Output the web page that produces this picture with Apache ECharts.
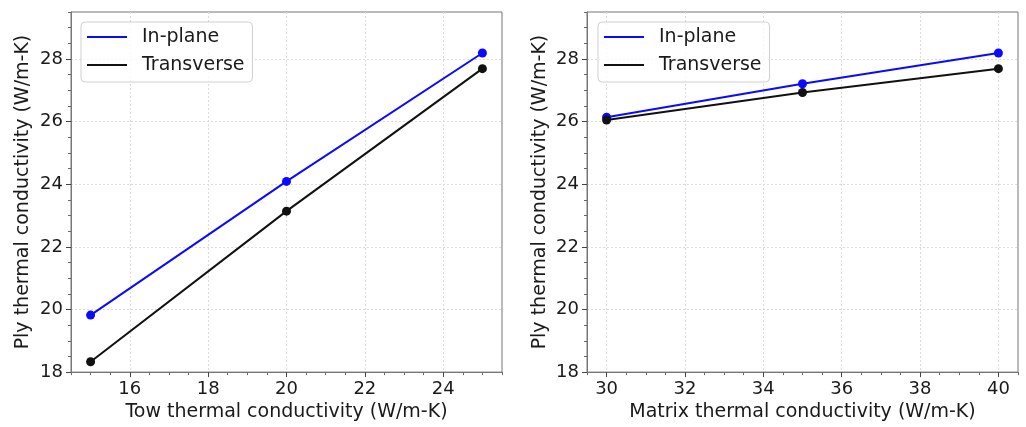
<!DOCTYPE html>
<html>
<head>
<meta charset="utf-8">
<script src="https://cdn.jsdelivr.net/npm/echarts@6/dist/echarts.min.js"></script>
<style>
  html, body { margin: 0; padding: 0; background: #fff; }
  #chart { width: 1026px; height: 427px; }
</style>
</head>
<body>
<div id="chart"></div>
<script>
// values
const towX = [15, 20, 25];
const towInPlane = [19.82, 24.09, 28.19];
const towTransverse = [18.33, 23.14, 27.69];

const matrixX = [30, 35, 40];
const matrixInPlane = [26.14, 27.21, 28.19];
const matrixTransverse = [26.05, 26.93, 27.69];

const towTicks = [16, 18, 20, 22, 24];
const matrixTicks = [30, 32, 34, 36, 38, 40];
const plyTicks = [18, 20, 22, 24, 26, 28];

const seriesNames = ['In-plane', 'Transverse'];
const seriesColors = ['#0a0aff', '#111111'];

const FONT = 'DejaVu Sans';
const TEXT = '#1a1a1a';
const FRAME = '#777777';

const chart = echarts.init(document.getElementById('chart'), null, { renderer: 'canvas' });

// major axis: labels, ticks, grid lines and title
function majorAxis(gridIndex, min, max, ticks, name, gap, pos) {
  return {
    type: 'value',
    gridIndex: gridIndex,
    position: pos,
    min: min,
    max: max,
    name: name,
    nameLocation: 'middle',
    nameGap: gap,
    nameTextStyle: { fontFamily: FONT, fontSize: 19, color: TEXT },
    axisLine: { show: true, lineStyle: { color: FRAME, width: 1 } },
    axisTick: { show: true, customValues: ticks, length: 5, inside: false, lineStyle: { color: '#444', width: 1 } },
    axisLabel: { customValues: ticks, fontFamily: FONT, fontSize: 18, color: TEXT, margin: 8 },
    splitLine: { show: true, lineStyle: { color: '#dcdcdc', type: [2, 2], width: 1 } },
    z: 3
  };
}

// minor axis: only the small ticks every 0.5
function minorAxis(gridIndex, min, max, pos) {
  return {
    type: 'value',
    gridIndex: gridIndex,
    position: pos,
    offset: 0,
    min: min,
    max: max,
    interval: 0.5,
    axisLine: { show: false },
    axisTick: { show: true, length: 3, inside: false, lineStyle: { color: '#666', width: 1 } },
    axisLabel: { show: false },
    splitLine: { show: false }
  };
}

function lineSeries(name, color, xs, ys, axisIndex) {
  return {
    name: name,
    type: 'line',
    xAxisIndex: axisIndex,
    yAxisIndex: axisIndex,
    data: xs.map((x, i) => [x, ys[i]]),
    symbol: 'circle',
    symbolSize: 9,
    showSymbol: true,
    lineStyle: { color: color, width: 2 },
    itemStyle: { color: color },
    z: 5
  };
}

function legendAt(left) {
  return {
    left: left,
    top: 22,
    orient: 'vertical',
    data: seriesNames,
    icon: 'rect',
    itemWidth: 40,
    itemHeight: 2,
    itemGap: 8,
    padding: [5, 8, 7, 6],
    borderColor: '#d0d0d0',
    borderWidth: 1,
    borderRadius: 4,
    backgroundColor: 'rgba(255,255,255,0.8)',
    textStyle: { fontFamily: FONT, fontSize: 19, color: TEXT, lineHeight: 20, padding: [0, 0, 0, 10] },
    selectedMode: false
  };
}

const option = {
  backgroundColor: '#ffffff',
  animation: false,
  legend: [legendAt(81), legendAt(598)],
  grid: [
    { left: 71, top: 12, width: 431, height: 362, show: true, borderColor: FRAME, borderWidth: 1, backgroundColor: 'transparent' },
    { left: 587, top: 12, width: 431, height: 362, show: true, borderColor: FRAME, borderWidth: 1, backgroundColor: 'transparent' }
  ],
  xAxis: [
    majorAxis(0, 14.5, 25.5, towTicks, 'Tow thermal conductivity (W/m-K)', 30, 'bottom'),
    majorAxis(1, 29.5, 40.5, matrixTicks, 'Matrix thermal conductivity (W/m-K)', 30, 'bottom'),
    minorAxis(0, 14.5, 25.5, 'bottom'),
    minorAxis(1, 29.5, 40.5, 'bottom')
  ],
  yAxis: [
    majorAxis(0, 18, 29.5, plyTicks, 'Ply thermal conductivity (W/m-K)', 38, 'left'),
    majorAxis(1, 18, 29.5, plyTicks, 'Ply thermal conductivity (W/m-K)', 37, 'left'),
    minorAxis(0, 18, 29.5, 'left'),
    minorAxis(1, 18, 29.5, 'left')
  ],
  series: [
    lineSeries(seriesNames[0], seriesColors[0], towX, towInPlane, 0),
    lineSeries(seriesNames[1], seriesColors[1], towX, towTransverse, 0),
    lineSeries(seriesNames[0], seriesColors[0], matrixX, matrixInPlane, 1),
    lineSeries(seriesNames[1], seriesColors[1], matrixX, matrixTransverse, 1)
  ]
};

chart.setOption(option);
</script>
</body>
</html>
